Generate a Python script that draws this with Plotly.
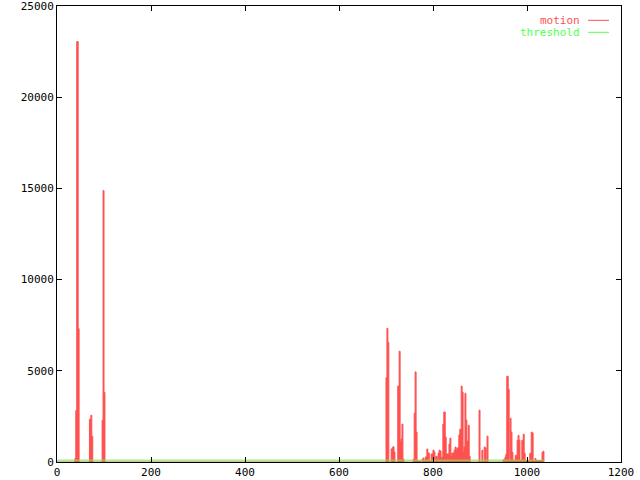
import plotly.graph_objects as go

# Frame numbers (start of each step) and motion values
frame = [0, 38, 40, 42, 45, 47,
         69, 72, 74, 76,
         96, 98, 100, 102,
         700, 702, 704, 706, 711, 713, 715, 717, 719,
         725, 728, 730, 732, 734, 736, 738,
         758, 760, 762, 764, 766, 771, 774, 777, 779, 781, 784, 787, 789, 792, 796, 800, 802,
         804, 806, 809, 811, 813, 815, 817, 819, 821, 823, 826, 828, 834, 836, 838, 840, 845,
         847, 849, 851, 855, 857, 860, 862, 864, 866, 868, 870, 872, 875, 877, 879,
         898, 900, 904, 906, 909, 911, 913, 915, 917,
         949, 953, 955, 957, 960, 962, 964, 966, 968, 970, 975, 977, 979, 981, 983, 985,
         989, 992, 994, 996, 1004, 1006, 1009, 1011, 1013, 1017, 1019, 1032, 1034, 1036]
motion = [0, 186, 2830, 23050, 7310, 0,
          2340, 2560, 1410, 0,
          2285, 14880, 3820, 0,
          4630, 7330, 6560, 0, 710, 780, 840, 550, 0,
          4160, 6070, 1110, 1260, 2080, 160, 0,
          150, 2680, 4940, 1640, 60, 60, 0, 170, 220, 60, 280, 710, 490, 60, 440, 650, 550,
          130, 310, 130, 490, 650, 600, 220, 280, 2080, 2740, 1370, 440, 980, 1310, 310, 490, 650,
          820, 650, 770, 1480, 1800, 4160, 3830, 550, 820, 3770, 2300, 1150, 2020, 310, 0,
          2840, 0, 650, 0, 820, 770, 0, 1420, 0,
          120, 260, 420, 4700, 3990, 100, 2400, 1640, 530, 100, 370, 310, 1190, 1460, 1190, 100,
          1190, 1520, 480, 80, 100, 480, 1640, 1590, 80, 200, 80, 530, 590, 0]

threshold_frames = [0, 1036]
threshold_values = [100, 100]

RED = "#ff5050"
GREEN = "#50ff50"
FONT = "DejaVu Sans Mono"

fig = go.Figure()
fig.add_trace(go.Scatter(x=frame, y=motion, mode="lines", line=dict(color=RED, width=1, shape="hv"),
                         fill="tozeroy", fillcolor=RED, name="motion", showlegend=False))
fig.add_trace(go.Scatter(x=threshold_frames, y=threshold_values, mode="lines",
                         line=dict(color=GREEN, width=1), name="threshold", showlegend=False))

axis_common = dict(showline=True, linecolor="black", linewidth=1, mirror="allticks",
                   ticks="inside", ticklen=5, tickcolor="black", showgrid=False, zeroline=False,
                   automargin=False, tickformat="d", ticklabeloverflow="allow",
                   tickfont=dict(family=FONT, size=11, color="black"))
fig.update_xaxes(range=[0, 1200], dtick=200, **axis_common)
fig.update_yaxes(range=[0, 25000], dtick=5000, **axis_common)

# Legend (top right, gnuplot style)
for label, color, yp in [("motion", RED, 0.9686), ("threshold", GREEN, 0.9423)]:
    fig.add_annotation(x=0.929, y=yp, xref="paper", yref="paper", text=label, showarrow=False,
                       xanchor="right", yanchor="middle", borderpad=0,
                       font=dict(family=FONT, size=11, color=color))
    fig.add_shape(type="line", xref="paper", yref="paper", x0=0.9415, x1=0.9787, y0=yp, y1=yp,
                  line=dict(color=color, width=1))

fig.update_layout(width=640, height=480, margin=dict(l=57, r=19, t=6, b=18),
                  plot_bgcolor="white", paper_bgcolor="white", showlegend=False)
fig.write_html("out.html", config={"displayModeBar": False},
               post_script="document.body.style.margin='0';")
